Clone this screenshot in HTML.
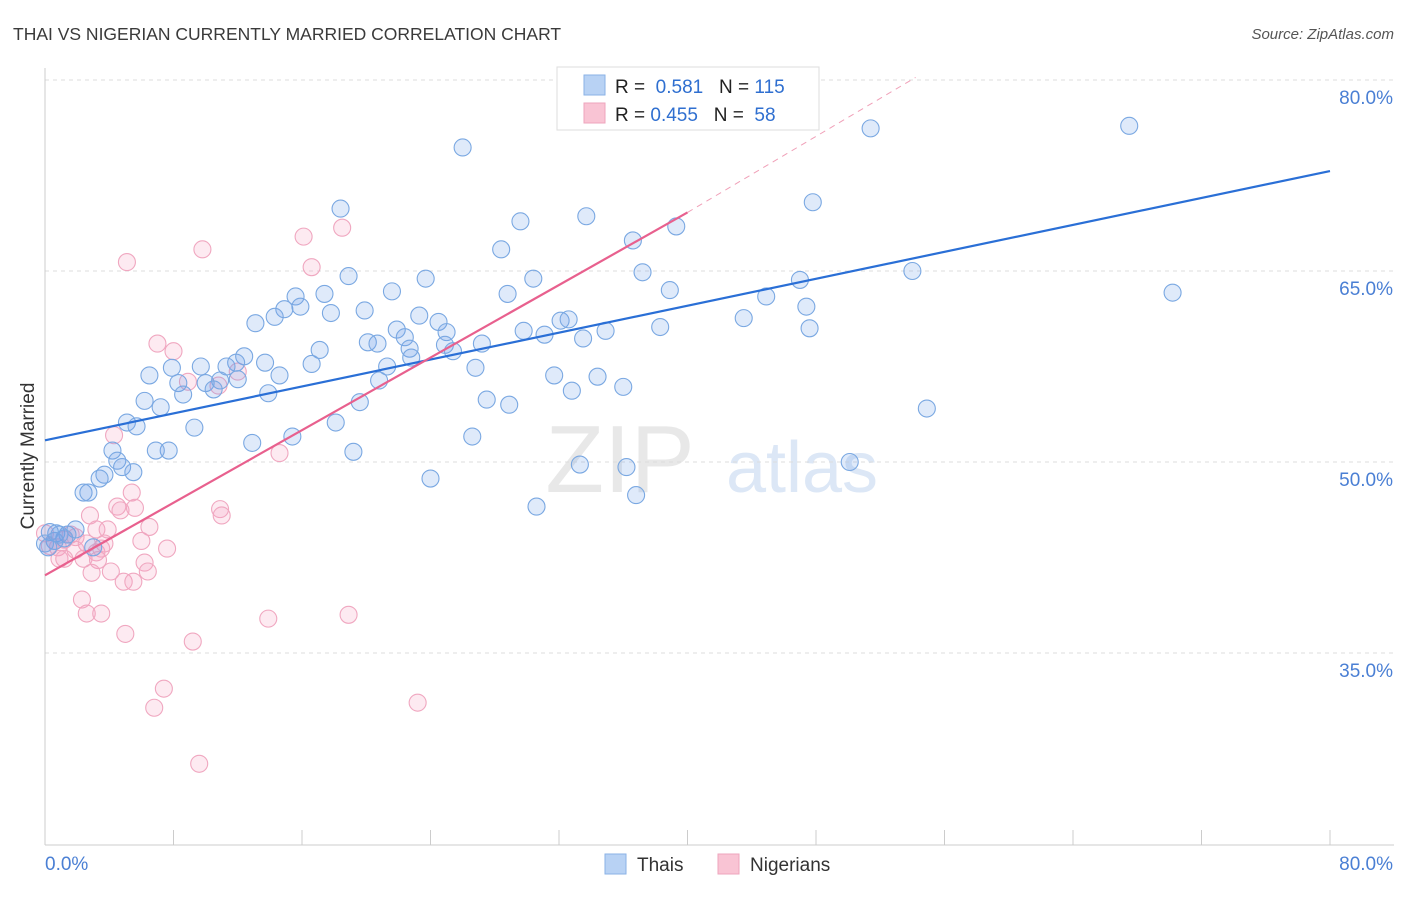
<!DOCTYPE html>
<html><head><meta charset="utf-8"><style>
body{margin:0;background:#fff;font-family:"Liberation Sans",sans-serif;}
svg text{font-family:"Liberation Sans",sans-serif;}
</style></head><body>
<svg id="chart" width="1406" height="892">
<text x="13" y="40" font-size="17.5" fill="#3a3a3a">THAI VS NIGERIAN CURRENTLY MARRIED CORRELATION CHART</text>
<text x="1394" y="39" font-size="15" fill="#555" text-anchor="end" font-style="italic">Source: ZipAtlas.com</text>
<text x="620" y="492" font-size="96" fill="#e8e8e8" font-family="Liberation Serif" text-anchor="middle">ZIP</text>
<text x="802" y="492" font-size="72" fill="#dce7f6" text-anchor="middle">atlas</text>
<g id="grid"></g>
<g id="axes"></g>
<g id="marks"></g>
<text transform="translate(34,456) rotate(-90)" font-size="19" fill="#333" text-anchor="middle">Currently Married</text>
<g>
<rect x="557" y="67" width="262" height="63" fill="#fff" stroke="#ddd"/>
<rect x="584" y="75" width="21" height="20" fill="#b8d2f4" stroke="#8ab2e6"/>
<rect x="584" y="103" width="21" height="20" fill="#f9c4d4" stroke="#eea5bd"/>
<text x="615" y="93" font-size="19" fill="#222">R = <tspan fill="#2f6fd0">&#160;0.581</tspan>&#160;&#160;&#160;N = <tspan fill="#2f6fd0">115</tspan></text>
<text x="615" y="121" font-size="19" fill="#222">R = <tspan fill="#2f6fd0">0.455</tspan>&#160;&#160;&#160;N = <tspan fill="#2f6fd0">&#160;58</tspan></text>
</g>
<g>
<rect x="605" y="854" width="21" height="20" fill="#b8d2f4" stroke="#8ab2e6"/>
<text x="637" y="871" font-size="19" fill="#333">Thais</text>
<rect x="718" y="854" width="21" height="20" fill="#f9c4d4" stroke="#eea5bd"/>
<text x="750" y="871" font-size="19" fill="#333">Nigerians</text>
</g>
</svg>
<script>
const yTicks=[80,65,50,35];
const yTickLabels=["80.0%","65.0%","50.0%","35.0%"];
const xTickCount=10;
const xLabels=["0.0%","80.0%"];
const thaiX=[26.0,51.4,67.5,18.4,29.6,33.7,47.8,39.3,36.6,28.4,18.9,23.7,30.4,37.2,54.0,47.0,38.9,28.8,21.6,15.6,17.4,14.9,15.9,19.9,17.8,13.1,14.3,23.3,24.5,32.1,32.6,29.8,31.1,34.9,38.3,43.5,44.9,47.4,47.6,70.2,21.9,22.4,25.0,20.1,20.7,22.7,22.8,24.9,25.4,27.2,33.5,17.1,12.4,11.9,13.7,11.3,9.7,7.9,6.5,21.3,16.6,14.6,26.8,31.7,34.4,20.8,12.0,10.9,10.0,8.3,8.6,10.5,13.9,36.0,32.8,27.5,28.9,19.6,7.2,6.2,5.1,5.7,18.1,54.9,15.4,12.9,9.3,26.6,7.7,6.9,19.2,4.2,4.5,4.8,5.5,50.1,33.3,36.2,3.7,3.4,24.0,2.4,2.7,36.8,30.6,1.9,0.7,1.4,1.2,0.3,0.6,0.0,3.0,0.2,0.9];
const thaiY=[74.7,76.2,76.4,69.9,68.9,69.3,70.4,68.5,67.4,66.7,64.6,64.4,64.4,64.9,65.0,64.3,63.5,63.2,63.4,63.0,63.2,62.0,62.2,61.9,61.7,60.9,61.4,61.5,61.0,61.1,61.2,60.3,60.0,60.3,60.6,61.3,63.0,62.2,60.5,63.3,60.4,59.8,60.2,59.4,59.3,58.9,58.2,59.2,58.7,59.3,59.7,58.8,58.3,57.8,57.8,57.5,57.5,57.4,56.8,57.5,57.7,56.8,57.4,56.8,56.7,56.4,56.5,56.4,56.2,56.2,55.3,55.7,55.4,55.9,55.6,54.9,54.5,54.7,54.3,54.8,53.1,52.8,53.1,54.2,52.0,51.5,52.7,52.0,50.9,50.9,50.8,50.9,50.1,49.6,49.2,50.0,49.8,49.6,49.0,48.7,48.7,47.6,47.6,47.4,46.5,44.7,44.4,44.3,44.0,44.5,43.8,43.6,43.3,43.3,44.3];
const nigX=[5.1,9.8,16.1,18.5,16.6,7.0,8.0,8.9,10.8,12.0,4.3,14.6,5.4,2.8,4.5,4.7,5.6,10.9,11.0,6.5,3.2,3.9,1.6,1.9,1.2,0.6,2.6,0.8,3.7,1.9,3.2,3.5,7.6,6.0,0.9,2.4,3.3,4.1,6.2,6.4,2.9,4.9,5.5,2.3,2.6,3.5,13.9,18.9,5.0,9.2,7.4,6.8,23.2,9.6,0.0,0.3,1.2];
const nigY=[65.7,66.7,67.7,68.4,65.3,59.3,58.7,56.3,56.0,57.1,52.1,50.7,47.6,45.8,46.5,46.2,46.4,46.3,45.8,44.9,44.7,44.7,44.3,44.1,43.9,43.8,43.6,43.3,43.6,43.1,42.9,43.2,43.2,43.8,42.4,42.4,42.3,41.4,42.1,41.4,41.3,40.6,40.6,39.2,38.1,38.1,37.7,38.0,36.5,35.9,32.2,30.7,31.1,26.3,44.4,43.4,42.4];
const thaiTrend=[[0,51.7],[80,72.85]];
const nigTrend=[[0,41.1],[40.0,69.6]];
const nigTrendExt=[[40.0,69.6],[54.2,80.2]];

const NS="http://www.w3.org/2000/svg";
function sx(v){return 45+v/80*1285;}
function sy(v){return 80+(80-v)*191/15;}
function mk(tag,attrs,parent){const e=document.createElementNS(NS,tag);for(const k in attrs)e.setAttribute(k,attrs[k]);document.getElementById(parent).appendChild(e);return e;}

yTicks.forEach((t,i)=>{
  const g=mk('line',{x1:45,x2:1394,y1:sy(t),y2:sy(t),stroke:'#ddd','stroke-dasharray':'4,4'},'grid');
  
  
  const l=mk('text',{x:1393,y:sy(t)+24,'font-size':19,fill:'#4a7fd4','text-anchor':'end'},'axes');
  l.textContent=yTickLabels[i];
  
  
});
const ax=mk('line',{x1:45,x2:45,y1:68,y2:845,stroke:'#ccc'},'axes');


const bx=mk('line',{x1:45,x2:1394,y1:845,y2:845,stroke:'#ccc'},'axes');


for(let i=0;i<=xTickCount;i++){
  const t=mk('line',{x1:sx(i*8),x2:sx(i*8),y1:830,y2:845,stroke:'#ccc'},'axes');
  
  
}
const xl0=mk('text',{x:45,y:870,'font-size':19,fill:'#4a7fd4'},'axes');
xl0.textContent=xLabels[0];


const xl1=mk('text',{x:1393,y:870,'font-size':19,fill:'#4a7fd4','text-anchor':'end'},'axes');
xl1.textContent=xLabels[1];



nigX.forEach((x,i)=>{
  const c=mk('circle',{cx:sx(x),cy:sy(nigY[i]),r:8.5,fill:'rgba(244,160,190,0.22)',stroke:'#f0a7c0','stroke-width':1.1},'marks');
  
  
});
thaiX.forEach((x,i)=>{
  const c=mk('circle',{cx:sx(x),cy:sy(thaiY[i]),r:8.5,fill:'rgba(110,160,230,0.22)',stroke:'#7aa8e2','stroke-width':1.1},'marks');
  
  
});
const tl=mk('line',{x1:sx(thaiTrend[0][0]),y1:sy(thaiTrend[0][1]),x2:sx(thaiTrend[1][0]),y2:sy(thaiTrend[1][1]),stroke:'#2a6fd6','stroke-width':2.2},'marks');


const nl=mk('line',{x1:sx(nigTrend[0][0]),y1:sy(nigTrend[0][1]),x2:sx(nigTrend[1][0]),y2:sy(nigTrend[1][1]),stroke:'#e8608e','stroke-width':2.2},'marks');


const ne=mk('line',{x1:sx(nigTrendExt[0][0]),y1:sy(nigTrendExt[0][1]),x2:sx(nigTrendExt[1][0]),y2:sy(nigTrendExt[1][1]),stroke:'#f0a0b8','stroke-width':1,'stroke-dasharray':'6,5'},'marks');


</script>
</body></html>
